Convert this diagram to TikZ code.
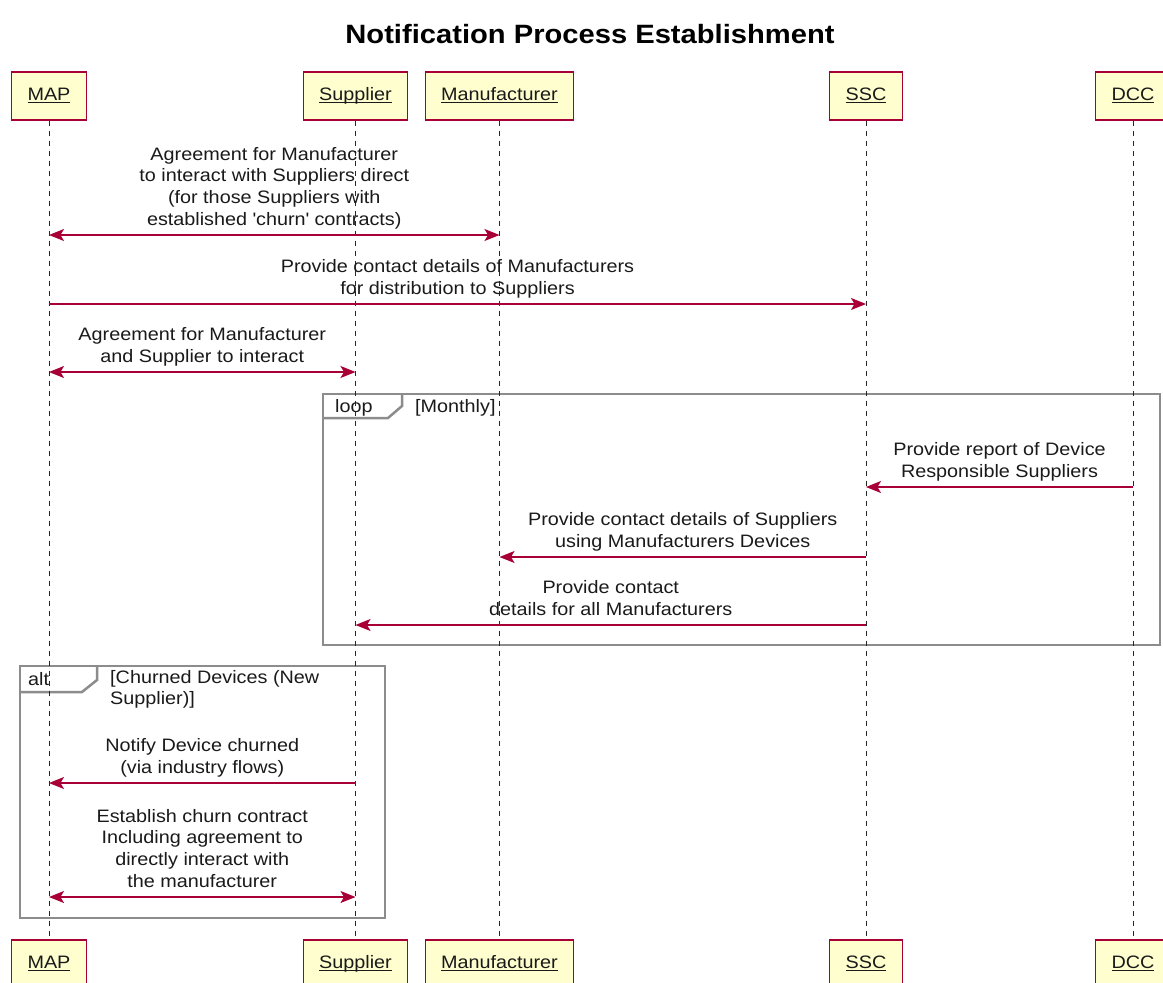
\documentclass[tikz,border=0pt]{standalone}
\usepackage{fontspec}
\setmainfont{Liberation Sans}[FakeStretch=1.1]
\usetikzlibrary{arrows.meta}
\definecolor{pfill}{HTML}{FEFECE}
\definecolor{pline}{HTML}{A80036}
\definecolor{fgray}{HTML}{8C8C8C}
\definecolor{txt}{HTML}{1A1A1A}
\newcommand\msgfont{\fontsize{18}{21.7}\selectfont}
\newcommand\partul[1]{\setbox0\hbox{#1}\rlap{\rule[-2.6pt]{\wd0}{1.2pt}}\box0}
\begin{document}
\begin{tikzpicture}[x=1pt,y=-1pt,
 part/.style={draw=pline, fill=pfill, line width=1.1pt, minimum height=48pt, inner xsep=16pt, font=\msgfont, text=txt, text height=13pt, text depth=4pt},
 lifeline/.style={draw=black!85, line width=1pt, dash pattern=on 5pt off 5pt},
 msg/.style={draw=pline, line width=1.3pt, -{Stealth[length=15pt,width=12pt,inset=3.5pt]}},
 dmsg/.style={draw=pline, line width=1.3pt, {Stealth[length=15pt,width=12pt,inset=3.5pt]}-{Stealth[length=15pt,width=12pt,inset=3.5pt]}},
 lbl/.style={font=\msgfont, text=txt, align=center, inner sep=0pt, anchor=south, text depth=5pt, midway, yshift=4pt},
 frame/.style={draw=fgray, line width=2.5pt},
 ftxt/.style={font=\msgfont, text=txt, inner sep=0pt, anchor=base west, align=left}
]
\useasboundingbox (0,0) rectangle (1163,983);
\fill[white] (0,0) rectangle (1163,983);

\node[font=\bfseries\fontsize{26.5}{30}\selectfont, inner sep=0pt] (title) at (590,34) {Notification Process Establishment};

% participants
\node[part] (tMAP) at (49,96) {\partul{MAP}};
\node[part] (tSup) at (355.5,96) {\partul{Supplier}};
\node[part] (tMan) at (499.5,96) {\partul{Manufacturer}};
\node[part] (tSSC) at (866,96) {\partul{SSC}};
\node[part] (tDCC) at (1133,96) {\partul{DCC}};
\node[part] (bMAP) at (49,964) {\partul{MAP}};
\node[part] (bSup) at (355.5,964) {\partul{Supplier}};
\node[part] (bMan) at (499.5,964) {\partul{Manufacturer}};
\node[part] (bSSC) at (866,964) {\partul{SSC}};
\node[part] (bDCC) at (1133,964) {\partul{DCC}};

% frames
\draw[frame] (323,394) rectangle (1160,645);
\draw[frame] (323,418) -- (388,418) -- (402,406) -- (402,394);
\node[ftxt] (loopt) at (335,412) {loop};
\node[ftxt] (loopc) at (415,412) {[Monthly]};

\draw[frame] (20,666) rectangle (385,918);
\draw[frame] (20,692) -- (82,692) -- (97,680) -- (97,666);
\node[ftxt] (altt) at (28,685) {alt};
\node[ftxt, anchor=north west] (altc) at (110,670) {[Churned Devices (New\\Supplier)]};

% lifelines
\draw[lifeline] (tMAP.south) -- (bMAP.north);
\draw[lifeline] (tSup.south) -- (bSup.north);
\draw[lifeline] (tMan.south) -- (bMan.north);
\draw[lifeline] (tSSC.south) -- (bSSC.north);
\draw[lifeline] (tDCC.south) -- (bDCC.north);

% message anchor coordinates
\coordinate (m1a) at (tMAP |- 0,235);
\coordinate (m1b) at (tMan |- 0,235);
\coordinate (m2a) at (tMAP |- 0,304);
\coordinate (m2b) at (tSSC |- 0,304);
\coordinate (m3a) at (tMAP |- 0,372);
\coordinate (m3b) at (tSup |- 0,372);
\coordinate (m4a) at (tDCC |- 0,487);
\coordinate (m4b) at (tSSC |- 0,487);
\coordinate (m5a) at (tSSC |- 0,557);
\coordinate (m5b) at (tMan |- 0,557);
\coordinate (m6a) at (tSSC |- 0,625);
\coordinate (m6b) at (tSup |- 0,625);
\coordinate (m7a) at (tSup |- 0,783);
\coordinate (m7b) at (tMAP |- 0,783);
\coordinate (m8a) at (tMAP |- 0,897);
\coordinate (m8b) at (tSup |- 0,897);

\draw[dmsg] (m1a) -- (m1b) node[lbl] {Agreement for Manufacturer\\to interact with Suppliers direct\\(for those Suppliers with\\established \textquotesingle churn\textquotesingle\ contracts)};
\draw[msg] (m2a) -- (m2b) node[lbl] {Provide contact details of Manufacturers\\for distribution to Suppliers};
\draw[dmsg] (m3a) -- (m3b) node[lbl] {Agreement for Manufacturer\\and Supplier to interact};
\draw[msg] (m4a) -- (m4b) node[lbl] {Provide report of Device\\Responsible Suppliers};
\draw[msg] (m5a) -- (m5b) node[lbl] {Provide contact details of Suppliers\\using Manufacturers Devices};
\draw[msg] (m6a) -- (m6b) node[lbl] {Provide contact\\details for all Manufacturers};
\draw[msg] (m7a) -- (m7b) node[lbl] {Notify Device churned\\(via industry flows)};
\draw[dmsg] (m8a) -- (m8b) node[lbl] {Establish churn contract\\Including agreement to\\directly interact with\\the manufacturer};
\end{tikzpicture}
\end{document}
